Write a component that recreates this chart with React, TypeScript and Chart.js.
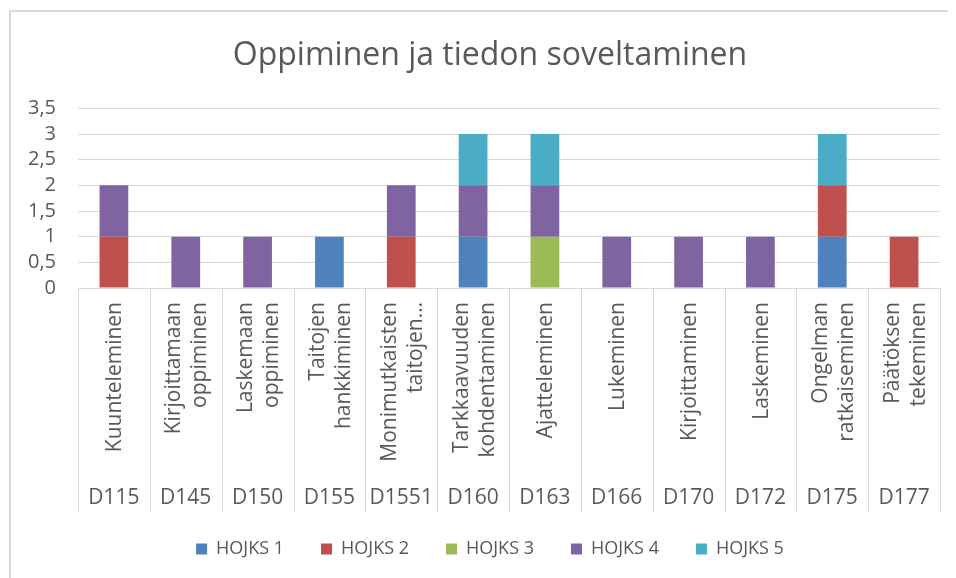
import React, { useEffect, useRef } from 'react';
import { Chart, registerables } from 'chart.js';

Chart.register(...registerables);

const TITLE = 'Oppiminen ja tiedon soveltaminen';

const categories = ['D115', 'D145', 'D150', 'D155', 'D1551', 'D160', 'D163', 'D166', 'D170', 'D172', 'D175', 'D177'];

const categoryNames: string[][] = [
  ['Kuunteleminen'],
  ['Kirjoittamaan', 'oppiminen'],
  ['Laskemaan', 'oppiminen'],
  ['Taitojen', 'hankkiminen'],
  ['Monimutkaisten', 'taitojen…'],
  ['Tarkkaavuuden', 'kohdentaminen'],
  ['Ajatteleminen'],
  ['Lukeminen'],
  ['Kirjoittaminen'],
  ['Laskeminen'],
  ['Ongelman', 'ratkaiseminen'],
  ['Päätöksen', 'tekeminen'],
];

const seriesNames = ['HOJKS 1', 'HOJKS 2', 'HOJKS 3', 'HOJKS 4', 'HOJKS 5'];
const seriesColors = ['#4f81bd', '#c0504d', '#9bbb59', '#8064a2', '#4bacc6'];

const hojks1 = [0, 0, 0, 1, 0, 1, 0, 0, 0, 0, 1, 0];
const hojks2 = [1, 0, 0, 0, 1, 0, 0, 0, 0, 0, 1, 1];
const hojks3 = [0, 0, 0, 0, 0, 0, 1, 0, 0, 0, 0, 0];
const hojks4 = [1, 1, 1, 0, 1, 1, 1, 1, 1, 1, 0, 0];
const hojks5 = [0, 0, 0, 0, 0, 1, 1, 0, 0, 0, 1, 0];

const seriesValues = [hojks1, hojks2, hojks3, hojks4, hojks5];

const Y_MIN = 0;
const Y_MAX = 3.5;
const Y_STEP = 0.5;

const FONT = "'Open Sans', 'Noto Sans', sans-serif";
const TEXT = '#595959';
const GRID = '#d9d9d9';

const W = 948;
const H = 570;

const framePlugin = {
  id: 'frame',
  beforeDraw(chart: any) {
    const { ctx } = chart;
    ctx.save();
    ctx.fillStyle = '#ffffff';
    ctx.fillRect(0, 0, chart.width, chart.height);
    ctx.fillStyle = GRID;
    ctx.fillRect(1, 2, 2, chart.height);
    ctx.fillRect(1, 2, chart.width, 2);
    ctx.restore();
  },
  afterDraw(chart: any) {
    const { ctx, chartArea, scales } = chart;
    const x = scales.x;
    const n = categories.length;
    const step = n > 1 ? x.getPixelForValue(1) - x.getPixelForValue(0) : chartArea.width;
    const top = chartArea.bottom;
    const bottom = chartArea.bottom + 224;
    ctx.save();
    ctx.strokeStyle = GRID;
    ctx.lineWidth = 1;
    for (let i = 0; i <= n; i++) {
      const px = Math.round(x.getPixelForValue(0) - step / 2 + i * step) + 0.5;
      ctx.beginPath();
      ctx.moveTo(px, top);
      ctx.lineTo(px, bottom);
      ctx.stroke();
    }
    ctx.fillStyle = TEXT;
    ctx.font = `21px ${FONT}`;
    categoryNames.forEach((lines, i) => {
      const cx = x.getPixelForValue(i);
      ctx.save();
      ctx.translate(cx, top + 14);
      ctx.rotate(-Math.PI / 2);
      ctx.textAlign = 'right';
      ctx.textBaseline = 'alphabetic';
      lines.forEach((ln, j) => {
        ctx.fillText(ln, 0, (j - (lines.length - 1) / 2) * 26 + 7.5);
      });
      ctx.restore();
    });
    ctx.textAlign = 'center';
    ctx.textBaseline = 'alphabetic';
    categories.forEach((c, i) => {
      ctx.fillText(c, x.getPixelForValue(i), top + 216);
    });
    ctx.restore();
  },
};

export default function App() {
  const ref = useRef<HTMLCanvasElement | null>(null);

  useEffect(() => {
    if (!ref.current) return;
    const chart = new Chart(ref.current, {
      type: 'bar',
      data: {
        labels: categories,
        datasets: seriesNames.map((name, i) => ({
          label: name,
          data: seriesValues[i],
          backgroundColor: seriesColors[i],
          borderWidth: 0,
          categoryPercentage: 1,
          barPercentage: 0.4,
        })),
      },
      options: {
        responsive: false,
        animation: false,
        devicePixelRatio: 1,
        layout: { padding: { top: 0, left: 32, right: 16, bottom: 10 } },
        scales: {
          x: {
            stacked: true,
            grid: { display: false },
            border: { display: false },
            ticks: { display: false },
            afterFit: (scale: any) => {
              scale.height = 215;
            },
          },
          y: {
            stacked: true,
            min: Y_MIN,
            max: Y_MAX,
            grid: { color: GRID, lineWidth: 1, drawTicks: false },
            border: { display: false },
            ticks: {
              stepSize: Y_STEP,
              autoSkip: false,
              padding: 22,
              color: TEXT,
              font: { family: FONT, size: 20 },
              callback: (v: any) => String(v).replace('.', ','),
            },
            afterFit: (scale: any) => {
              scale.width = 38;
              scale._computeLabelArea = () => undefined;
            },
          },
        },
        plugins: {
          title: {
            display: true,
            text: TITLE,
            color: TEXT,
            font: { family: FONT, size: 32, weight: 'normal' },
            padding: { top: 29, bottom: 33 },
          },
          legend: {
            display: true,
            position: 'bottom',
            labels: {
              boxWidth: 11,
              boxHeight: 11,
              padding: 37,
              color: TEXT,
              font: { family: FONT, size: 18 },
            },
          },
          tooltip: { enabled: false },
        },
      },
      plugins: [framePlugin],
    });
    return () => chart.destroy();
  }, []);

  return (
    <div style={{ width: W, height: H }}>
      <canvas ref={ref} width={W} height={H} style={{ display: 'block', width: W, height: H }} />
    </div>
  );
}
